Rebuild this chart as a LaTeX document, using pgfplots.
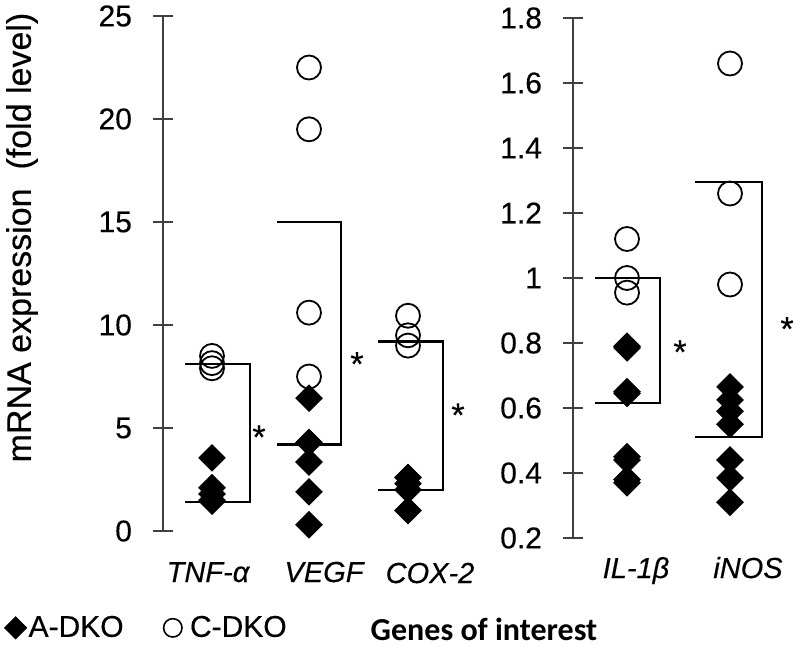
\documentclass[border=0pt]{standalone}
\usepackage{pgfplots}
\pgfplotsset{compat=1.18}
\usepackage{fontspec}
\setmainfont{Liberation Sans}[FakeBold=0.35]
\newfontfamily\calibri{Carlito}

% 1 px of the reference = 0.5pt here
\pgfplotsset{
  genes/.style={
    scale only axis, clip=false,
    axis x line=none, axis y line=left,
    axis line style={-, black!75, line width=1pt},
    tick align=center, major tick length=10pt,
    every tick/.style={black!75, line width=1pt},
    yticklabel style={font=\fontsize{15}{17}\selectfont, anchor=east, xshift=-7pt},
    /pgf/number format/assume math mode=true,
    xtick=\empty,
  },
  adko/.style={only marks, mark=square*, mark size=4.7pt,
    mark options={rotate=45, fill=black, draw=black}},
  cdko/.style={only marks, mark=o, mark size=6pt,
    mark options={draw=black, line width=0.9pt, fill=none}},
  brk/.style={black, line width=1.1pt, no marks},
}
\tikzset{sig/.style={font=\fontsize{17}{19}\selectfont, yshift=-3.5pt}}

\begin{document}
\begin{tikzpicture}
\path[use as bounding box] (0,0) rectangle (398pt,322.5pt);

\begin{axis}[genes,
  at={(81.5pt,57pt)}, anchor=south west,
  width=153.5pt, height=257.5pt,
  xmin=163, xmax=470, ymin=0, ymax=25,
  ytick={0,5,10,15,20,25},
  legend style={draw=none, fill=none, at={(rel axis cs:-0.537,-0.188)}, anchor=west,
    legend columns=-1, font=\fontsize{15}{17}\selectfont,
    nodes={inner xsep=1pt},
    /tikz/every even column/.append style={column sep=19pt}},
]
\addlegendimage{legend image code/.code={\draw[black, fill=black] plot[mark=square*, mark size=3.9pt, mark options={rotate=45}] coordinates {(0pt,0pt)};}}
\addlegendentry{A-DKO}
\addlegendimage{legend image code/.code={\draw[black, line width=0.8pt] plot[mark=o, mark size=4.6pt] coordinates {(0pt,0pt)};}}
\addlegendentry{\hspace{3pt}C-DKO}

% brackets
\addplot[brk, forget plot] coordinates {(185,8.1) (250,8.1) (250,1.4) (185,1.4)};
\addplot[brk, forget plot] coordinates {(277,15.0) (341,15.0) (341,4.2) (277,4.2)};
\addplot[brk, forget plot] coordinates {(378,9.2) (443,9.2) (443,2.0) (378,2.0)};

% C-DKO
\addplot[cdko, forget plot] coordinates {(212,8.5) (212,8.15) (212,7.9)};
\addplot[cdko, forget plot] coordinates {(309,22.5) (309,19.5) (309,10.6) (309,7.5)};
\addplot[cdko, forget plot] coordinates {(408,10.45) (408,9.5) (408,9.0)};

% A-DKO
\addplot[adko, forget plot] coordinates {(212,3.55) (212,2.1) (212,1.8) (212,1.5) (212,1.45)};
\addplot[adko, forget plot] coordinates {(309,6.45) (309,4.3) (309,3.35) (309,1.9) (309,0.3)};
\addplot[adko, forget plot] coordinates {(408,2.6) (408,2.3) (408,2.0) (408,1.0)};

\node[sig] at (axis cs:259,4.9) {*};
\node[sig] at (axis cs:357,8.45) {*};
\node[sig] at (axis cs:458,5.97) {*};
\end{axis}

\begin{axis}[genes,
  at={(286.5pt,53.5pt)}, anchor=south west,
  width=111.5pt, height=260pt,
  xmin=573, xmax=796, ymin=0.2, ymax=1.8,
  ytick={0.2,0.4,0.6,0.8,1,1.2,1.4,1.6,1.8},
]
\addplot[brk] coordinates {(595,1.0) (660,1.0) (660,0.615) (595,0.615)};
\addplot[brk] coordinates {(695,1.295) (762,1.295) (762,0.51) (695,0.51)};

\addplot[cdko] coordinates {(627,1.12) (627,1.0) (627,0.955)};
\addplot[cdko] coordinates {(730,1.66) (730,1.26) (730,0.98)};

\addplot[adko] coordinates {(627,0.79) (627,0.785) (627,0.65) (627,0.645) (627,0.45) (627,0.44) (627,0.38) (627,0.37)};
\addplot[adko] coordinates {(730,0.665) (730,0.625) (730,0.59) (730,0.55) (730,0.44) (730,0.385) (730,0.31)};

\node[sig] at (axis cs:680,0.794) {*};
\node[sig] at (axis cs:787,0.865) {*};
\end{axis}

% category names, y label, x label
\begin{scope}[every node/.style={font=\fontsize{14.5}{17}\selectfont\itshape, anchor=base}]
\node at (104pt,31.5pt) {TNF-α};
\node at (162pt,31.5pt) {VEGF};
\node at (215pt,31pt) {COX-2};
\node at (318pt,33.5pt) {IL-1β};
\node at (374pt,33.5pt) {iNOS};
\end{scope}
\node[rotate=90, font=\fontsize{17}{19}\selectfont] at (11pt,203.75pt) {mRNA expression\ \ (fold level)};
\node[anchor=base, font=\calibri\bfseries\fontsize{16}{18}\selectfont] at (242pt,2.5pt) {Genes of interest};
\end{tikzpicture}
\end{document}
